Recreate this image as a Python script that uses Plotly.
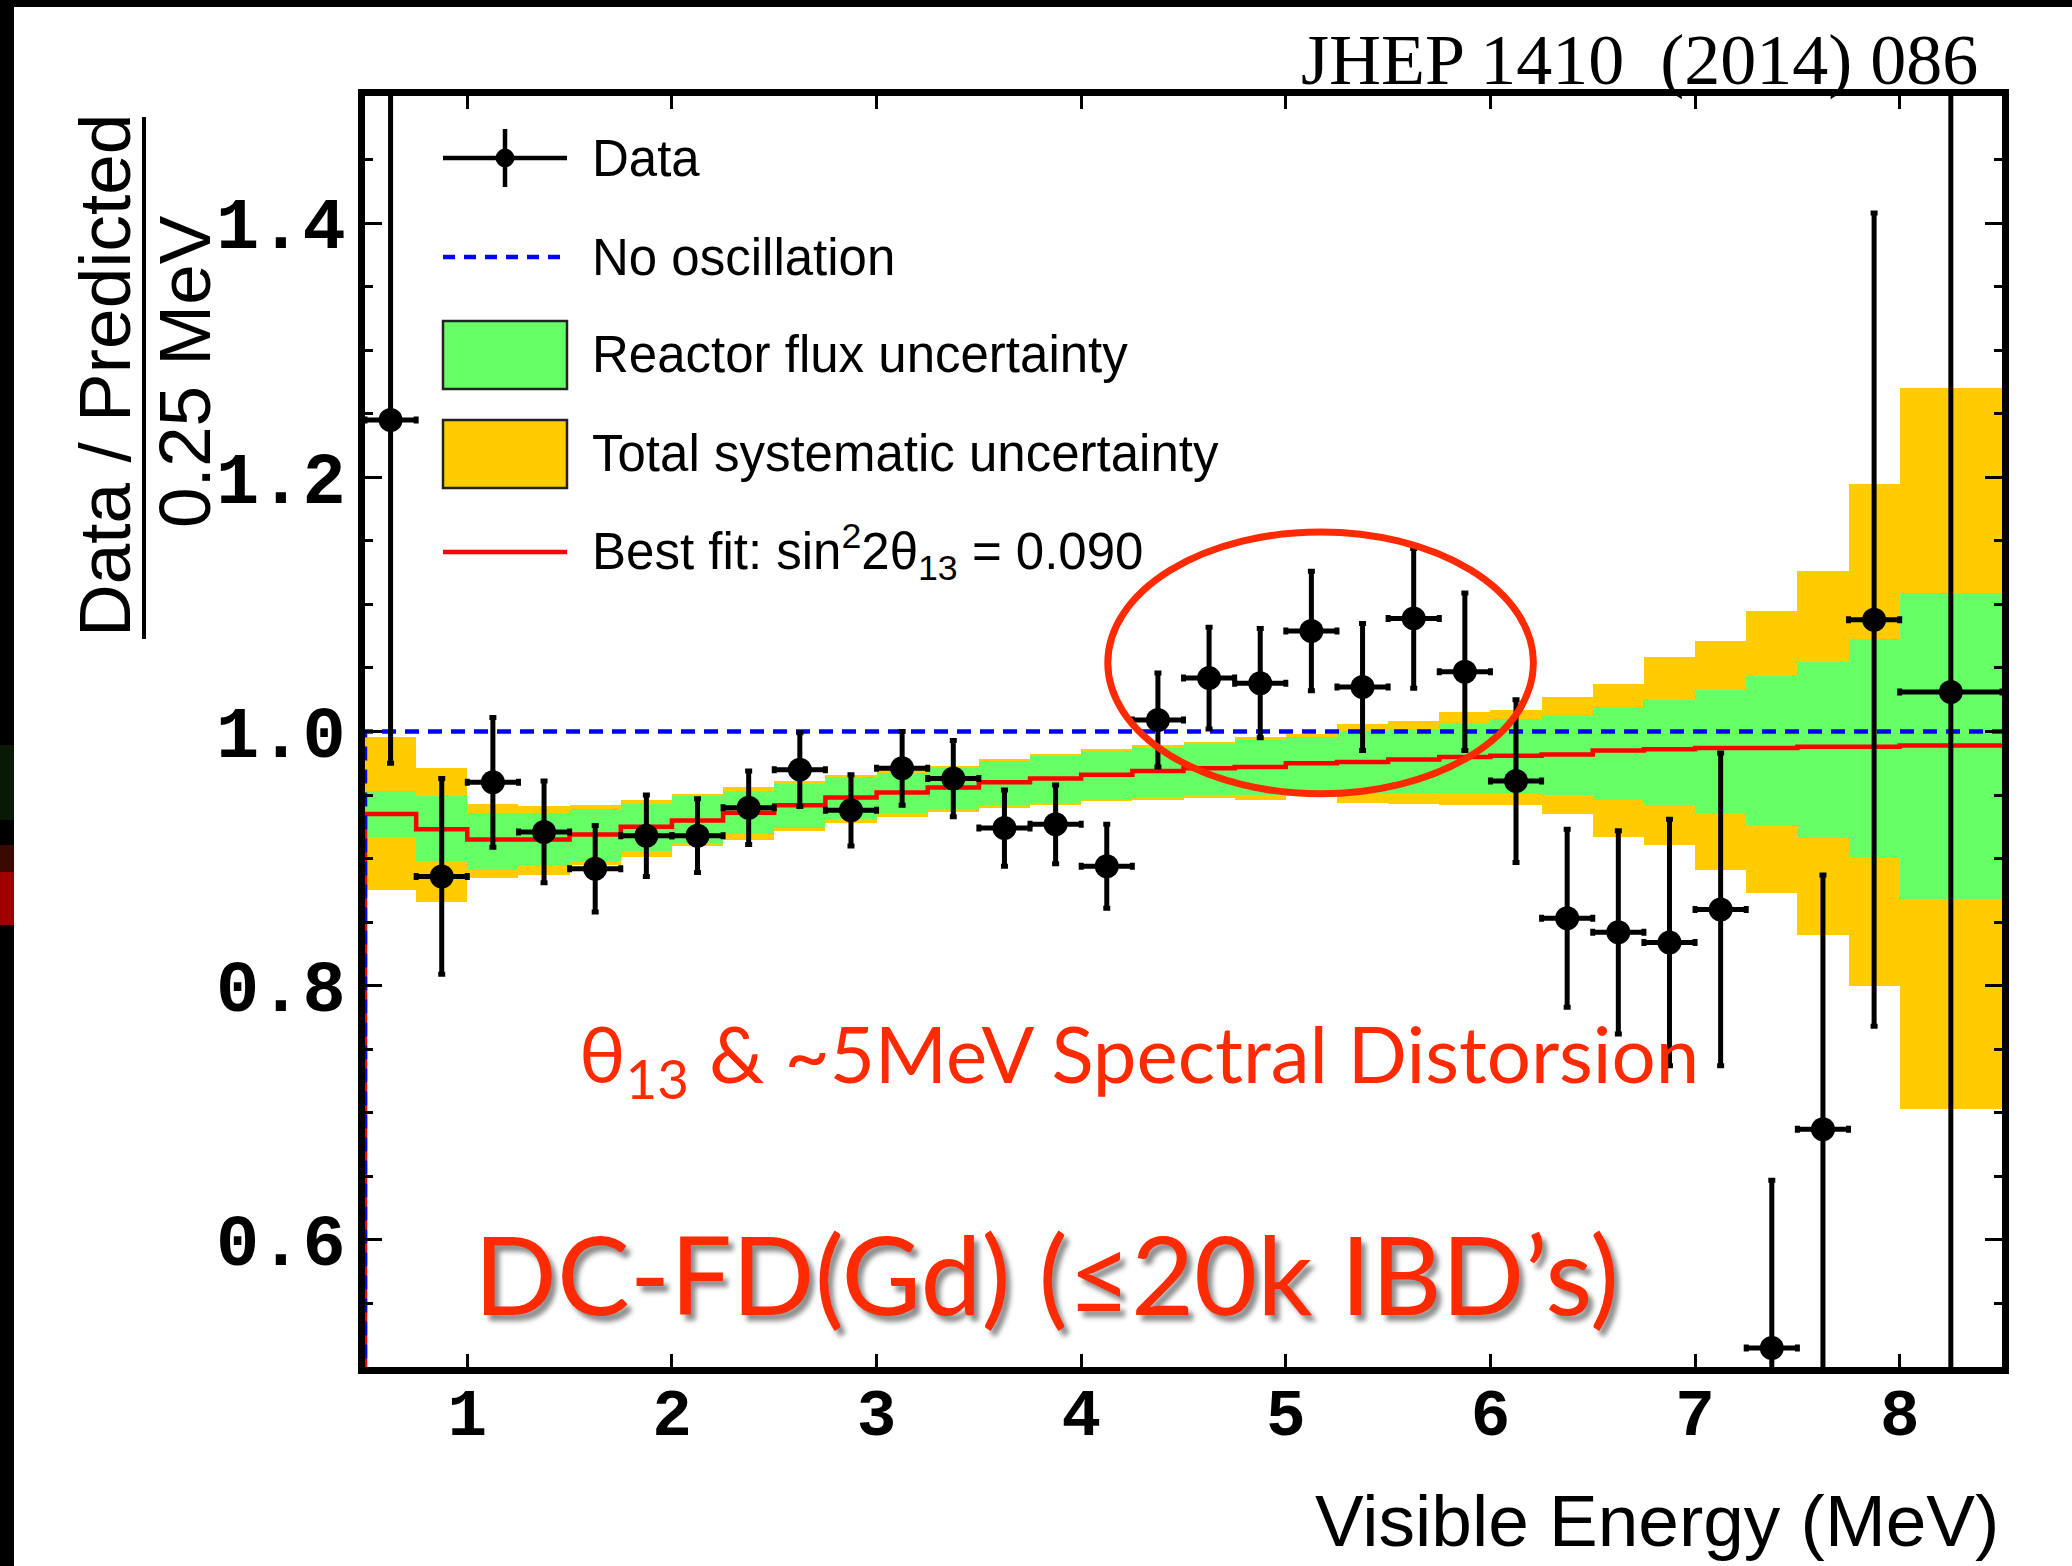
import plotly.graph_objects as go

# ---------------- data ----------------
bin_edges = [0.5, 0.75, 1.0, 1.25, 1.5, 1.75, 2.0, 2.25, 2.5, 2.75, 3.0, 3.25,
             3.5, 3.75, 4.0, 4.25, 4.5, 4.75, 5.0, 5.25, 5.5, 5.75, 6.0, 6.25,
             6.5, 6.75, 7.0, 7.25, 7.5, 7.75, 8.0, 8.5]

data_ratio = [1.245, 0.886, 0.960, 0.921, 0.892, 0.918, 0.918, 0.940, 0.970, 0.938,
              0.971, 0.963, 0.924, 0.927, 0.894, 1.009, 1.042, 1.038, 1.079, 1.035,
              1.089, 1.047, 0.961, 0.853, 0.842, 0.834, 0.860, 0.515, 0.687, 1.088,
              1.031]
data_err = [0.270, 0.077, 0.051, 0.040, 0.034, 0.032, 0.029, 0.029, 0.029, 0.028,
            0.029, 0.030, 0.030, 0.031, 0.033, 0.037, 0.040, 0.043, 0.047, 0.050,
            0.055, 0.062, 0.064, 0.070, 0.080, 0.097, 0.123, 0.132, 0.200, 0.320,
            0.600]

best_fit = [0.935, 0.923, 0.915, 0.915, 0.919, 0.925, 0.930, 0.936, 0.942, 0.948,
            0.952, 0.956, 0.960, 0.963, 0.966, 0.969, 0.971, 0.972, 0.975, 0.976,
            0.978, 0.980, 0.981, 0.982, 0.985, 0.986, 0.987, 0.987, 0.988, 0.988,
            0.989]

flux_lo = [0.916, 0.897, 0.892, 0.894, 0.898, 0.906, 0.912, 0.919, 0.924, 0.931,
           0.935, 0.939, 0.941, 0.944, 0.946, 0.948, 0.950, 0.950, 0.952, 0.952,
           0.952, 0.951, 0.951, 0.950, 0.946, 0.942, 0.935, 0.926, 0.917, 0.901,
           0.868]
flux_hi = [0.953, 0.949, 0.936, 0.936, 0.939, 0.943, 0.949, 0.953, 0.959, 0.964,
           0.967, 0.971, 0.977, 0.981, 0.985, 0.987, 0.990, 0.993, 0.996, 1.000,
           1.002, 1.007, 1.010, 1.013, 1.019, 1.025, 1.033, 1.044, 1.055, 1.073,
           1.109]

syst_lo = [0.875, 0.866, 0.885, 0.887, 0.895, 0.901, 0.910, 0.915, 0.922, 0.928,
           0.933, 0.937, 0.940, 0.942, 0.945, 0.946, 0.948, 0.946, 0.949, 0.944,
           0.943, 0.942, 0.942, 0.935, 0.917, 0.911, 0.891, 0.873, 0.840, 0.800,
           0.703]
syst_hi = [0.996, 0.971, 0.943, 0.941, 0.942, 0.946, 0.951, 0.956, 0.961, 0.966,
           0.970, 0.973, 0.978, 0.982, 0.986, 0.989, 0.992, 0.996, 0.998, 1.006,
           1.008, 1.015, 1.017, 1.027, 1.037, 1.059, 1.071, 1.095, 1.126, 1.195,
           1.270]

no_osc_level = 1.0

x_tick_vals = [1, 2, 3, 4, 5, 6, 7, 8]
y_tick_vals = [0.6, 0.8, 1.0, 1.2, 1.4]
y_tick_text = ["0.6", "0.8", "1.0", "1.2", "1.4"]

# ---------------- geometry ----------------
W, H = 2072, 1566
ML, MR, MT, MB = 365, 70, 96, 199
PW, PH = W - ML - MR, H - MT - MB


def pxx(x):
    return (x - ML) / PW


def pxy(y):
    return (H - MB - y) / PH


lo_edges = bin_edges[:-1]
hi_edges = bin_edges[1:]
centers = [(a + b) / 2 for a, b in zip(lo_edges, hi_edges)]
widths = [b - a for a, b in zip(lo_edges, hi_edges)]
half_w = [w / 2 for w in widths]

GREEN = "#66FF66"
YELLOW = "#FFCC00"
RED = "#FF0000"
BLUE = "#0000FF"
ANN = "#FF2A00"

fig = go.Figure()

fig.add_trace(go.Bar(x=centers, base=syst_lo,
                     y=[h - l for h, l in zip(syst_hi, syst_lo)],
                     width=widths, marker=dict(color=YELLOW, line=dict(width=0)),
                     name="Total systematic uncertainty"))
fig.add_trace(go.Bar(x=centers, base=flux_lo,
                     y=[h - l for h, l in zip(flux_hi, flux_lo)],
                     width=widths, marker=dict(color=GREEN, line=dict(width=0)),
                     name="Reactor flux uncertainty"))

# best fit step histogram (drawn from zero like ROOT)
fig.add_trace(go.Scatter(x=[bin_edges[0]] + bin_edges,
                         y=[0] + best_fit + [best_fit[-1]],
                         mode="lines", line=dict(color=RED, width=4.5, shape="hv"),
                         name="Best fit"))
# no oscillation
fig.add_trace(go.Scatter(x=[bin_edges[0], bin_edges[0], bin_edges[-1]],
                         y=[0, no_osc_level, no_osc_level],
                         mode="lines",
                         line=dict(color=BLUE, width=4.5, dash="14px,9px"),
                         name="No oscillation"))
# data
fig.add_trace(go.Scatter(x=centers, y=data_ratio, mode="markers",
                         marker=dict(color="black", size=24),
                         error_x=dict(type="data", array=half_w, color="black",
                                      thickness=5, width=3.5),
                         error_y=dict(type="data", array=data_err, color="black",
                                      thickness=5, width=3.5),
                         name="Data"))

shapes = []
annotations = []

# highlight ellipse around ~5 MeV excess
ellipse = dict(x0=4.13, x1=6.21, y0=0.951, y1=1.157)
shapes.append(dict(type="circle", xref="x", yref="y", layer="above",
                   line=dict(color=ANN, width=7), fillcolor="rgba(0,0,0,0)",
                   **ellipse))

# ---------- manual legend ----------
sym_x0, sym_x1, sym_xc, text_x = 443, 567, 505, 590
rows = [158, 257, 355, 454, 552]
# Data
shapes.append(dict(type="line", xref="paper", yref="paper", x0=pxx(sym_x0), x1=pxx(sym_x1),
                   y0=pxy(rows[0]), y1=pxy(rows[0]), line=dict(color="black", width=4.5)))
shapes.append(dict(type="line", xref="paper", yref="paper", x0=pxx(sym_xc), x1=pxx(sym_xc),
                   y0=pxy(rows[0] - 29), y1=pxy(rows[0] + 29), line=dict(color="black", width=4.5)))
shapes.append(dict(type="circle", xref="paper", yref="paper",
                   x0=pxx(sym_xc - 9), x1=pxx(sym_xc + 9), y0=pxy(rows[0] - 9), y1=pxy(rows[0] + 9),
                   fillcolor="black", line=dict(color="black", width=1)))
# No oscillation
shapes.append(dict(type="line", xref="paper", yref="paper", x0=pxx(sym_x0), x1=pxx(sym_x1),
                   y0=pxy(rows[1]), y1=pxy(rows[1]),
                   line=dict(color=BLUE, width=4.5, dash="12px,9px")))
# boxes
for r, col in ((rows[2], GREEN), (rows[3], YELLOW)):
    shapes.append(dict(type="rect", xref="paper", yref="paper", x0=pxx(sym_x0), x1=pxx(sym_x1),
                       y0=pxy(r - 34), y1=pxy(r + 34), fillcolor=col,
                       line=dict(color="#222222", width=2.5)))
# best fit
shapes.append(dict(type="line", xref="paper", yref="paper", x0=pxx(sym_x0), x1=pxx(sym_x1),
                   y0=pxy(rows[4]), y1=pxy(rows[4]), line=dict(color=RED, width=4.5)))

legend_texts = ["Data", "No oscillation", "Reactor flux uncertainty",
                "Total systematic uncertainty",
                "Best fit: sin<sup>2</sup>2θ<sub>13</sub> = 0.090"]
for r, t in zip(rows, legend_texts):
    annotations.append(dict(text=t, xref="paper", yref="paper", x=pxx(text_x), y=pxy(r),
                            xanchor="left", yanchor="middle", showarrow=False,
                            font=dict(family="Liberation Sans, Arial", size=51, color="black")))

# ---------- axis titles ----------
annotations.append(dict(text="Visible Energy (MeV)", xref="paper", yref="paper",
                        x=pxx(2001), y=pxy(1520), xanchor="right", yanchor="middle",
                        showarrow=False,
                        font=dict(family="Liberation Sans, Arial", size=73, color="black")))
annotations.append(dict(text="Data / Predicted", xref="paper", yref="paper",
                        x=pxx(104), y=pxy(376), xanchor="center", yanchor="middle",
                        textangle=-90, showarrow=False,
                        font=dict(family="Liberation Sans, Arial", size=73, color="black")))
annotations.append(dict(text="0.25 MeV", xref="paper", yref="paper",
                        x=pxx(184), y=pxy(372), xanchor="center", yanchor="middle",
                        textangle=-90, showarrow=False,
                        font=dict(family="Liberation Sans, Arial", size=73, color="black")))
shapes.append(dict(type="line", xref="paper", yref="paper", x0=pxx(144), x1=pxx(144),
                   y0=pxy(117), y1=pxy(639), line=dict(color="black", width=4)))

# ---------- reference / notes ----------
annotations.append(dict(text="JHEP 1410\u00a0\u00a0(2014) 086", xref="paper", yref="paper",
                        x=pxx(1980), y=pxy(60), xanchor="right", yanchor="middle",
                        showarrow=False,
                        font=dict(family="Liberation Serif, Times New Roman", size=72,
                                  color="black")))
annotations.append(dict(text="θ<sub>13</sub> &amp; ~5MeV Spectral Distorsion",
                        xref="paper", yref="paper", x=pxx(577), y=pxy(1058),
                        xanchor="left", yanchor="middle", showarrow=False,
                        font=dict(family="Lato, Open Sans", size=78, color=ANN)))
annotations.append(dict(text="DC-FD(Gd) (≤20k IBD’s)",
                        xref="paper", yref="paper", x=pxx(472), y=pxy(1272),
                        xanchor="left", yanchor="middle", showarrow=False,
                        font=dict(family="Lato, Open Sans", size=109, color=ANN,
                                  shadow="5px 6px 5px rgba(0,0,0,0.45)")))

# ---------- page border (slide edge) ----------
shapes.append(dict(type="rect", xref="paper", yref="paper", x0=pxx(0), x1=pxx(14),
                   y0=pxy(H), y1=pxy(0), fillcolor="black", line=dict(width=0), layer="below"))
shapes.append(dict(type="rect", xref="paper", yref="paper", x0=pxx(0), x1=pxx(W),
                   y0=pxy(7), y1=pxy(0), fillcolor="black", line=dict(width=0), layer="below"))
shapes.append(dict(type="rect", xref="paper", yref="paper", x0=pxx(0), x1=pxx(14),
                   y0=pxy(925), y1=pxy(872), fillcolor="#A00000", line=dict(width=0), layer="below"))
shapes.append(dict(type="rect", xref="paper", yref="paper", x0=pxx(0), x1=pxx(14),
                   y0=pxy(872), y1=pxy(845), fillcolor="#3A0A00", line=dict(width=0), layer="below"))
shapes.append(dict(type="rect", xref="paper", yref="paper", x0=pxx(0), x1=pxx(14),
                   y0=pxy(820), y1=pxy(745), fillcolor="#0A1806", line=dict(width=0), layer="below"))

axis_common = dict(showgrid=False, zeroline=False, showline=True, linecolor="black",
                   linewidth=7, mirror="ticks", ticks="inside", tickcolor="black",
                   tickwidth=3, automargin=False)

fig.update_layout(
    width=W, height=H,
    margin=dict(l=ML, r=MR, t=MT, b=MB, pad=0),
    paper_bgcolor="white", plot_bgcolor="white",
    template="none",
    barmode="overlay", bargap=0,
    showlegend=False,
    shapes=shapes, annotations=annotations,
    xaxis=dict(range=[0.5, 8.5], tickvals=x_tick_vals, ticklen=13,
               ticklabelstandoff=-18,
               tickfont=dict(family="Liberation Mono, Courier New", size=66,
                             color="black", weight="bold"),
               **axis_common),
    yaxis=dict(range=[0.5, 1.5], tickvals=y_tick_vals, ticktext=y_tick_text, ticklen=17,
               ticklabelstandoff=-2,
               minor=dict(dtick=0.05, tick0=0.5, ticklen=8, tickwidth=3,
                          tickcolor="black", ticks="inside"),
               tickfont=dict(family="Liberation Mono, Courier New", size=72,
                             color="black", weight="bold"),
               **axis_common),
)

fig.write_html("out.html")
